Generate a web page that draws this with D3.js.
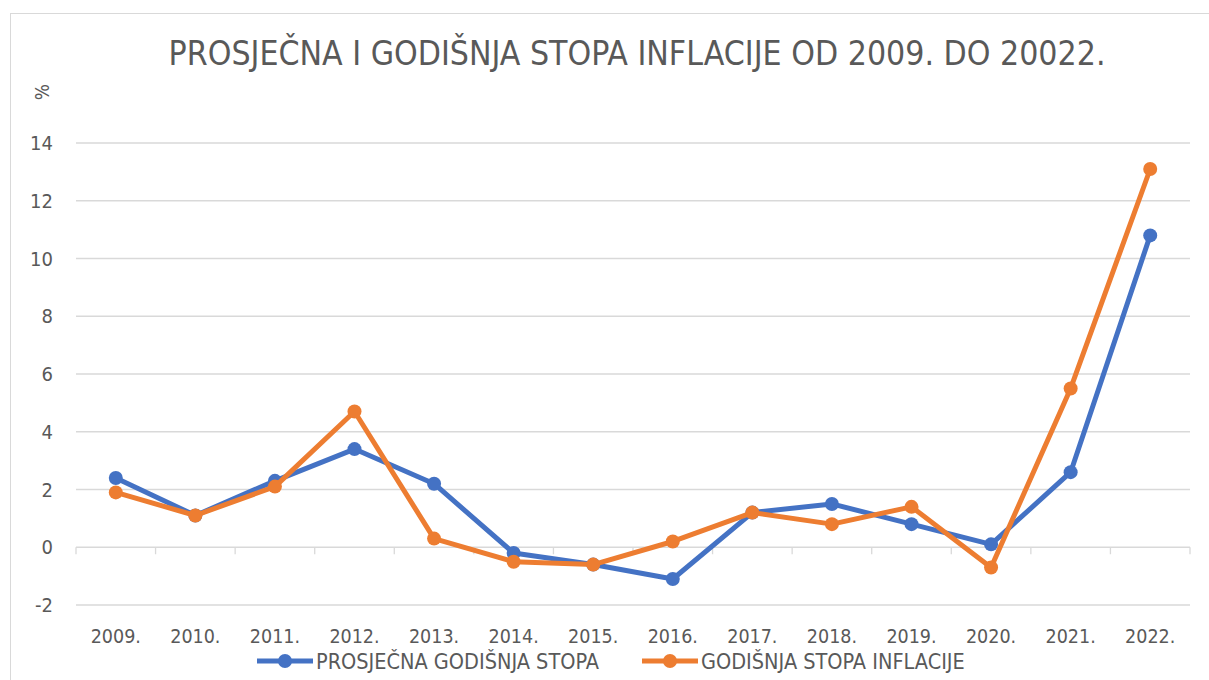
<!DOCTYPE html>
<html>
<head>
<meta charset="utf-8">
<script src="https://cdn.jsdelivr.net/npm/d3@7"></script>
<style>
  body { margin: 0; background: #fff; }
  text { font-family: "DejaVu Sans Condensed", "DejaVu Sans", sans-serif; }
</style>
</head>
<body>
<script>
// data
var years = ["2009.", "2010.", "2011.", "2012.", "2013.", "2014.", "2015.", "2016.", "2017.", "2018.", "2019.", "2020.", "2021.", "2022."]
var prosjecna = [2.4, 1.1, 2.3, 3.4, 2.2, -0.2, -0.6, -1.1, 1.2, 1.5, 0.8, 0.1, 2.6, 10.8]
var godisnja = [1.9, 1.1, 2.1, 4.7, 0.3, -0.5, -0.6, 0.2, 1.2, 0.8, 1.4, -0.7, 5.5, 13.1]
var yTicks = [-2, 0, 2, 4, 6, 8, 10, 12, 14]
var seriesNames = ["PROSJEČNA GODIŠNJA STOPA", "GODIŠNJA STOPA INFLACIJE"]
var colors = ["#4472C4", "#ED7D31"]

var W = 1209, H = 680
var margin = {top: 143, right: 19, bottom: 75, left: 76}
var width = W - margin.left - margin.right,
    height = H - margin.top - margin.bottom

var svg = d3.select("body").append("svg")
    .attr("width", W)
    .attr("height", H)

// outer chart border
svg.append("rect")
    .attr("x", 10.5).attr("y", 13.5)
    .attr("width", W + 10).attr("height", H + 10)
    .attr("fill", "none")
    .attr("stroke", "#d9d9d9")
    .attr("stroke-width", 1)

svg.append("text")
    .text("PROSJEČNA I GODIŠNJA STOPA INFLACIJE OD 2009. DO 20022.")
    .attr("x", 637)
    .attr("y", 65)
    .attr("text-anchor", "middle")
    .attr("fill", "#595959")
    .style("font-size", "33.5px")

svg.append("text")
    .text("%")
    .attr("transform", "translate(49,92) rotate(-90)")
    .attr("text-anchor", "middle")
    .attr("fill", "#595959")
    .style("font-size", "19px")

var g = svg.append("g")
    .attr("transform", "translate(" + margin.left + "," + margin.top + ")")

var x = d3.scaleBand().domain(years).range([0, width])
var y = d3.scaleLinear().domain([-2, 14]).range([height, 0])

// gridlines
g.selectAll(".grid")
    .data(yTicks.filter(d => d != 0))
    .enter().append("line")
    .attr("x1", 0).attr("x2", width)
    .attr("y1", d => y(d)).attr("y2", d => y(d))
    .attr("stroke", "#d9d9d9")
    .attr("stroke-width", 1.3)

// y labels
g.selectAll(".ylab")
    .data(yTicks)
    .enter().append("text")
    .text(d => d)
    .attr("x", -23)
    .attr("y", d => y(d))
    .attr("dy", "0.36em")
    .attr("text-anchor", "end")
    .attr("fill", "#595959")
    .style("font-size", "20px")

// x axis at zero, tick marks at band edges
var xAxis = g.append("g")
g.append("line")
    .attr("x1", 0).attr("x2", width)
    .attr("y1", y(0)).attr("y2", y(0))
    .attr("stroke", "#d9d9d9")
    .attr("stroke-width", 1.3)
xAxis.selectAll("line")
    .data(d3.range(years.length + 1))
    .enter().append("line")
    .attr("x1", i => i * x.step()).attr("x2", i => i * x.step())
    .attr("y1", y(0)).attr("y2", y(0) + 7)
    .attr("stroke", "#d9d9d9")
    .attr("stroke-width", 1.3)

g.selectAll(".xlab")
    .data(years)
    .enter().append("text")
    .text(d => d)
    .attr("x", d => x(d) + x.bandwidth() / 2)
    .attr("y", height + 38)
    .attr("text-anchor", "middle")
    .attr("fill", "#595959")
    .style("font-size", "19.5px")

var line = d3.line()
    .x((d, i) => x(years[i]) + x.bandwidth() / 2)
    .y(d => y(d))

var allSeries = [prosjecna, godisnja]
allSeries.forEach(function(vals, k) {
    g.append("path")
        .datum(vals)
        .attr("d", line)
        .attr("fill", "none")
        .attr("stroke", colors[k])
        .attr("stroke-width", 5)
        .attr("stroke-linejoin", "round")
    g.selectAll(".pt" + k)
        .data(vals)
        .enter().append("circle")
        .attr("cx", (d, i) => x(years[i]) + x.bandwidth() / 2)
        .attr("cy", d => y(d))
        .attr("r", 7)
        .attr("fill", colors[k])
})

// legend
var legendX = [257, 642]
seriesNames.forEach(function(name, k) {
    var lg = svg.append("g").attr("transform", "translate(" + legendX[k] + ",661)")
    lg.append("line")
        .attr("x1", 0).attr("x2", 56)
        .attr("stroke", colors[k])
        .attr("stroke-width", 5)
    lg.append("circle")
        .attr("cx", 28).attr("r", 7)
        .attr("fill", colors[k])
    lg.append("text")
        .text(name)
        .attr("x", 59)
        .attr("dy", "0.36em")
        .attr("fill", "#595959")
        .style("font-size", "21.5px")
})
</script>
</body>
</html>
